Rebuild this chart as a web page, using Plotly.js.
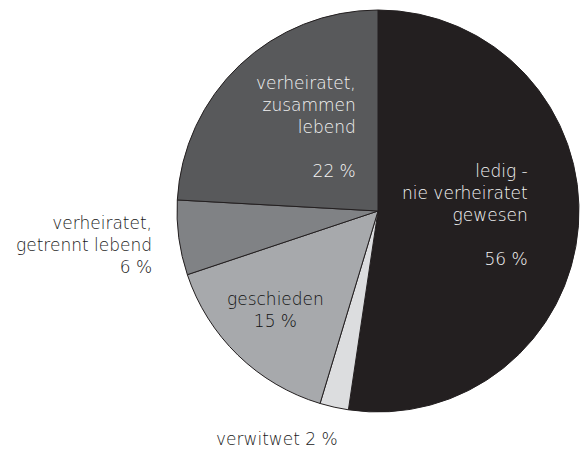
<!DOCTYPE html>
<html>
<head>
<meta charset="utf-8">
<script src="https://cdn.plot.ly/plotly-3.0.1.min.js"></script>
<style>html,body{margin:0;padding:0;background:#fff;}#chart{width:582px;height:450px;}</style>
</head>
<body>
<div id="chart"></div>
<script>
// Categories (clockwise from 12 o'clock)
var categories = ["ledig - nie verheiratet gewesen", "verwitwet", "geschieden", "verheiratet, getrennt lebend", "verheiratet, zusammen lebend"];
// Slice sizes as drawn in the picture (share of the circle, %)
var drawnValues = [52.3, 2.3, 15.2, 6.0, 24.1];
// Printed percentages
var labelPercents = ["56 %", "2 %", "15 %", "6 %", "22 %"];
var sliceColors = ["#231f20", "#dcdddf", "#a7a9ac", "#808285", "#58595b"];

var fontFam = "'DejaVu Sans', sans-serif";
var trace = {
  type: "pie",
  labels: categories,
  values: drawnValues,
  sort: false,
  direction: "clockwise",
  rotation: 0,
  textinfo: "none",
  hoverinfo: "label+value",
  marker: {colors: sliceColors, line: {color: "#231f20", width: 1}},
  domain: {x: [177/582, 579/582], y: [1 - 413/450, 1 - 9/450]},
  showlegend: false
};

function ann(x, y, text, align, color, xanchor) {
  return {xref: "paper", yref: "paper", x: x/582, y: 1 - y/450, text: text,
    showarrow: false, align: align, xanchor: xanchor, yanchor: "middle", borderpad: 0,
    font: {family: fontFam, size: 17, color: color, weight: 300}};
}
var annotations = [
  ann(529, 215, "ledig -<br>nie verheiratet<br>gewesen<br> <br>" + labelPercents[0], "right", "#f4f4f4", "right"),
  ann(277, 439, "verwitwet " + labelPercents[1], "center", "#1a1a1a", "center"),
  ann(275, 310, "geschieden<br>" + labelPercents[2], "center", "#111111", "center"),
  ann(153, 245, "verheiratet,<br>getrennt lebend<br>" + labelPercents[3], "right", "#1a1a1a", "right"),
  ann(357, 127, "verheiratet,<br>zusammen<br>lebend<br> <br>" + labelPercents[4], "right", "#f4f4f4", "right")
];

var layout = {
  width: 582, height: 450,
  margin: {l: 0, r: 0, t: 0, b: 0},
  paper_bgcolor: "#ffffff",
  annotations: annotations,
  showlegend: false
};
Plotly.newPlot("chart", [trace], layout, {displayModeBar: false, staticPlot: true});
</script>
</body>
</html>
